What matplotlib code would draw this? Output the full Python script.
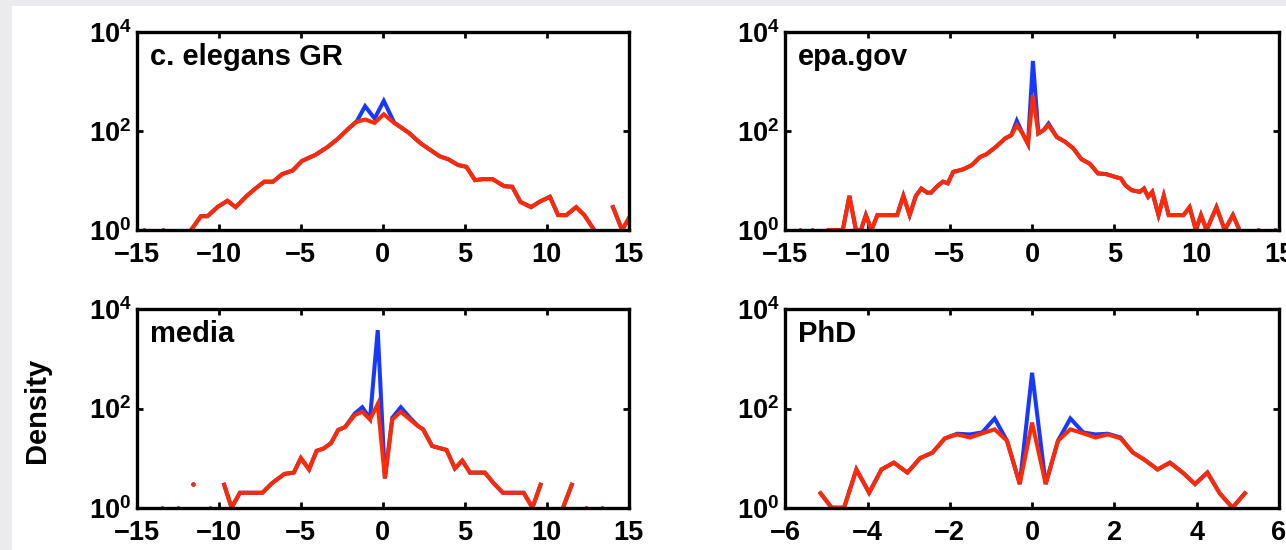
import numpy as np
import matplotlib
matplotlib.use("Agg")
import matplotlib.pyplot as plt
from matplotlib.patches import Rectangle
from matplotlib.ticker import NullLocator

plt.rcParams['font.family'] = ['Liberation Sans', 'DejaVu Sans']
plt.rcParams['font.weight'] = 'bold'
plt.rcParams['mathtext.fontset'] = 'custom'
plt.rcParams['mathtext.rm'] = 'Liberation Sans:bold'
plt.rcParams['mathtext.it'] = 'Liberation Sans:bold'
plt.rcParams['mathtext.bf'] = 'Liberation Sans:bold'
plt.rcParams['mathtext.default'] = 'regular'

nan = np.nan

# c. elegans GR
celeg_x = [-14.6, -14.0, -13.4, -12.5, -11.7, -11.1, -10.7, -10.07, -9.48, -8.98,
           -8.3, -7.75, -7.23, -6.7, -6.14, -5.5, -4.93, -4.12, -3.36, -2.72,
           -2.09, -1.58, -1.08, -0.5, 0.06, 0.69, 1.58, 2.33, 3.47, 4.0,
           4.6, 5.1, 5.63, 6.13, 6.7, 7.4, 7.9, 8.4, 9.05, 9.55,
           10.2, 10.7, 11.2, 11.8, 12.3, 12.9, 13.5, 14.05, 14.6, 15.2]
celeg_red = [1, nan, 1, nan, 1, 1.9, 1.9, 2.95, 3.9, 2.9,
             4.9, 7.0, 9.5, 9.5, 13.5, 16, 25, 33, 48, 71,
             113, 155, 172, 147, 220, 147, 93, 56, 31, 27,
             20.6, 19, 10.2, 10.7, 10.7, 7.7, 7.5, 3.7, 2.9, 3.7,
             4.7, 2.0, 2.0, 2.9, 2.0, 1, nan, 2.9, 1, 2.2]
celeg_blue = [1, nan, 1, nan, 1, 1.9, 1.9, 2.95, 3.9, 2.9,
              4.9, 7.0, 9.5, 9.5, 13.5, 16, 25, 33, 48, 71,
              113, 160, 320, 180, 410, 150, 93, 56, 31, 27,
              20.6, 19, 10.2, 10.7, 10.7, 7.7, 7.5, 3.7, 2.9, 3.7,
              4.7, 2.0, 2.0, 2.9, 2.0, 1, nan, 2.9, 1, 2.2]

# epa.gov
epa_x = [-14.1, -13.75, -13.4, -12.9, -12.35, -11.9, -11.5, -11.1, -10.7, -10.4,
         -10.1, -9.76, -9.4, -9.0, -8.6, -8.2, -7.82, -7.44, -7.06, -6.73,
         -6.38, -6.13, -5.8, -5.42, -5.12, -4.79, -4.45, -4.16, -3.66, -3.16,
         -2.78, -2.2, -1.64, -1.26, -0.93, -0.58, -0.25, 0.05, 0.38, 0.7,
         1.0, 1.5, 2.0, 2.5, 3.0, 3.5, 4.0, 4.5, 5.0, 5.4,
         5.66, 6.04, 6.54, 6.8, 7.05, 7.3, 7.68, 8.0, 8.3, 8.75,
         9.2, 9.57, 9.95, 10.26, 10.6, 11.2, 11.7, 12.2, 12.6, 13.1,
         13.74, 14.2, 14.75]
epa_red = [1, nan, 1, nan, 1, 1, 1, 4.9, 1, 1,
           2.0, 1, 2.0, 2.0, 2.0, 2.0, 4.9, 2.0, 4.9, 6.9,
           5.7, 5.7, 7.5, 9.5, 8.8, 15, 16, 17, 20.6, 30,
           34, 48, 71, 83, 132, 90, 55, 535, 90, 105,
           132, 76, 61, 45, 27, 22, 14, 13.5, 12, 11,
           8.1, 6.4, 5.9, 6.9, 4.7, 5.9, 2.0, 4.9, 2.0, 2.0,
           2.0, 2.9, 1, 2.0, 1, 2.9, 1, 2.0, 1, nan,
           1, nan, 1]
epa_blue = [1, nan, 1, nan, 1, 1, 1, 4.9, 1, 1,
            2.0, 1, 2.0, 2.0, 2.0, 2.0, 4.9, 2.0, 4.9, 6.9,
            5.7, 5.7, 7.5, 9.5, 8.8, 15, 16, 17, 20.6, 30,
            34, 48, 71, 83, 162, 90, 55, 2630, 90, 105,
            142, 76, 61, 45, 27, 22, 14, 13.5, 12, 11,
            8.1, 6.4, 5.9, 6.9, 4.7, 5.9, 2.0, 4.9, 2.0, 2.0,
            2.0, 2.9, 1, 2.0, 1, 2.9, 1, 2.0, 1, nan,
            1, nan, 1]

# media
media_x = [-13.48, -13.0, -12.5, -12.0, -11.58, -11.1, -10.57, -10.1, -9.68, -9.23,
           -8.72, -8.0, -7.35, -6.77, -6.0, -5.43, -5.0, -4.5, -4.04, -3.63,
           -3.16, -2.72, -2.31, -1.7, -1.25, -0.78, -0.31, 0.13, 0.58, 1.1,
           1.66, 2.16, 2.46, 3.01, 3.89, 4.4, 4.85, 5.32, 6.23, 6.77,
           7.33, 8.6, 9.13, 9.63, 10.3, 11.0, 11.53, 12.0, 12.42, 12.9,
           13.35]
media_red = [1, nan, 1, nan, 3.0, nan, 1, nan, 2.9, 1,
             2.0, 2.0, 2.0, 3.1, 4.8, 5.1, 10, 5.9, 14, 15.5,
             20, 37, 42, 74, 86, 60, 123, 3.9, 60, 86,
             60, 44, 38, 17.5, 14.6, 6.2, 8.9, 5.1, 5.1, 3.1,
             2.0, 2.0, 1, 2.9, nan, 1, 2.9, nan, 1, nan,
             1]
media_blue = [1, nan, 1, nan, 3.0, nan, 1, nan, 2.9, 1,
              2.0, 2.0, 2.0, 3.1, 4.8, 5.1, 10, 5.9, 14, 15.5,
              20, 37, 42, 80, 106, 62, 3800, 3.9, 65, 106,
              65, 44, 38, 17.5, 14.6, 6.2, 8.9, 5.1, 5.1, 3.1,
              2.0, 2.0, 1, 2.9, nan, 1, 2.9, nan, 1, nan,
              1]

# PhD
phd_x = [-5.14, -4.87, -4.57, -4.27, -3.96, -3.66, -3.36, -3.03, -2.72, -2.42,
         -2.12, -1.82, -1.51, -1.21, -0.91, -0.61, -0.3, 0.0, 0.33, 0.63,
         0.93, 1.24, 1.54, 1.84, 2.15, 2.45, 2.72, 3.05, 3.35, 3.66,
         3.96, 4.26, 4.56, 4.87, 5.17]
phd_red = [1.95, 1, 1, 5.9, 2.0, 5.9, 8.1, 5.1, 10, 12.9,
           25, 30, 26, 31.6, 38, 22.4, 3.0, 52, 3.0, 22.4,
           38, 31.6, 26, 30, 25, 12.9, 9.4, 5.9, 8.1, 5.1,
           3.0, 5.1, 1.95, 1, 1.95]
phd_blue = [1.95, 1, 1, 5.9, 2.0, 5.9, 8.1, 5.1, 10, 12.9,
            25, 31, 30, 33, 63, 22.4, 3.0, 525, 3.0, 22.4,
            63, 33, 30, 31, 26, 12.9, 9.4, 5.9, 8.1, 5.1,
            3.0, 5.1, 1.95, 1, 1.95]

panels = [
    ("c. elegans GR", celeg_x, celeg_blue, celeg_red, [-15, -10, -5, 0, 5, 10, 15]),
    ("epa.gov", epa_x, epa_blue, epa_red, [-15, -10, -5, 0, 5, 10, 15]),
    ("media", media_x, media_blue, media_red, [-15, -10, -5, 0, 5, 10, 15]),
    ("PhD", phd_x, phd_blue, phd_red, [-6, -4, -2, 0, 2, 4, 6]),
]

BLUE = '#1638ff'
RED = '#ff2a00'

W, H = 1286, 550
fig = plt.figure(figsize=(W / 100, H / 100), dpi=100)
fig.patch.set_facecolor('#ebebee')
fig.add_artist(Rectangle((12 / W, 0), 1, 1 - 6 / H, transform=fig.transFigure,
                         facecolor='white', edgecolor='none', zorder=-10))

# axes boxes in pixels: left, right, top, bottom
boxes = [(137, 628.6, 32.3, 230), (785.2, 1279, 32.3, 230),
         (137, 628.6, 309.3, 507.7), (785.2, 1279, 309.3, 507.7)]


def isolated(y):
    ok = np.isfinite(y)
    prev = np.r_[False, ok[:-1]]
    nxt = np.r_[ok[1:], False]
    return ok & ~prev & ~nxt


for (name, x, yb, yr, xt), (l, r, t, b) in zip(panels, boxes):
    ax = fig.add_axes([l / W, 1 - b / H, (r - l) / W, (b - t) / H])
    x = np.array(x)
    for y, c in ((np.array(yb, float), BLUE), (np.array(yr, float), RED)):
        ax.plot(x, y, color=c, lw=2.9, solid_joinstyle='miter')
        m = isolated(y)
        ax.plot(x[m], y[m], 'o', color=c, ms=3.2, mec='none')
    ax.set_yscale('log')
    ax.set_ylim(1, 1e4)
    ax.set_yticks([1, 100, 1e4])
    ax.yaxis.set_minor_locator(NullLocator())
    ax.set_xlim(xt[0], xt[-1])
    ax.set_xticks(xt)
    for s in ax.spines.values():
        s.set_linewidth(2.4)
    ax.tick_params(direction='in', length=4, width=2, top=True, right=True, labelsize=19.5)
    ax.tick_params(axis='x', pad=8.5)
    ax.tick_params(axis='y', pad=4)
    ax.text(0.026, 0.835, name, transform=ax.transAxes, fontsize=21,
            fontweight='bold', ha='left', va='baseline')

fig.text(37 / W, 1 - 410 / H, "Density", rotation=90, fontsize=21,
         fontweight='bold', ha='center', va='center')

plt.savefig("out.png", dpi=100, facecolor=fig.get_facecolor())
print("Done!")
